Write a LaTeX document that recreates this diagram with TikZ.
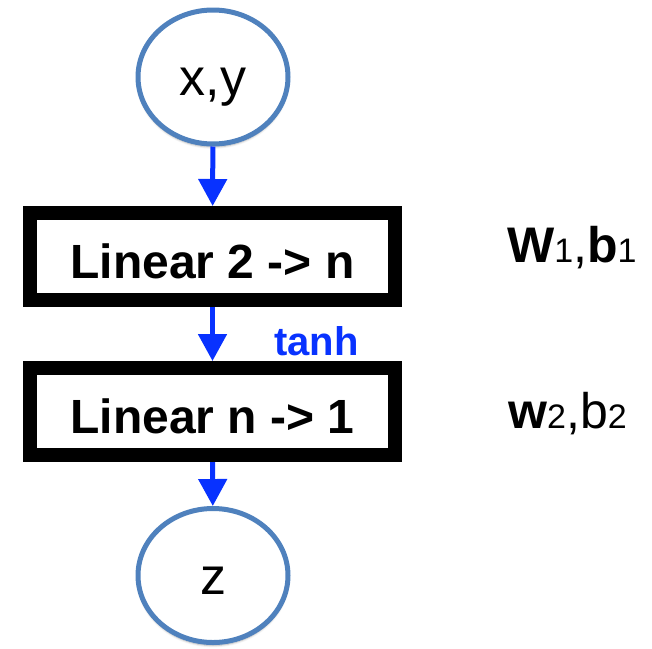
\documentclass[tikz,border=0pt]{standalone}
\usepackage{fontspec}
\setmainfont{Liberation Sans}
\usetikzlibrary{arrows.meta,shapes.geometric,shadows.blur}
\definecolor{ringblue}{RGB}{79,129,189}
\definecolor{arrowblue}{RGB}{8,50,255}
\tikzset{
  ring/.style={ellipse, draw=ringblue, line width=5pt, fill=white,
    minimum width=150pt, minimum height=134pt, inner sep=0pt,
    text height=37pt, text depth=0pt,
    blur shadow={shadow xshift=0pt, shadow yshift=-3pt, shadow blur steps=6, shadow opacity=30},
    font=\fontsize{52}{60}\selectfont},
  layerbox/.style={rectangle, draw=black, line width=14pt,
    minimum width=365pt, minimum height=87pt, inner sep=0pt,
    text height=44pt, text depth=0pt,
    font=\fontsize{48}{56}\selectfont\bfseries},
  flow/.style={draw=arrowblue, line width=5pt, -{Triangle[width=28pt,length=27pt]}},
  param/.style={anchor=base west, inner sep=0pt, font=\fontsize{50}{58}\selectfont},
}
\begin{document}
\begin{tikzpicture}[x=1pt,y=-1pt]
\useasboundingbox (0,0) rectangle (652,648);
\node[ring] (xy) at (213,77) {x,y};
\node[layerbox] (l1) at (212.5,256.5) {Linear 2 -> n};
\node[layerbox] (l2) at (212.5,411.5) {Linear n -> 1};
\node[ring] (z) at (213,575.5) {z};
\draw[flow] (xy) -- (l1);
\draw[flow] (l1) -- (l2);
\draw[flow] (l2) -- (z);
\node[anchor=base west, inner sep=0pt, text=arrowblue, font=\fontsize{40}{48}\selectfont\bfseries] (act) at (274,355) {tanh};
\node[param] (p1) at (507,262) {\textbf{W}{\fontsize{34}{40}\selectfont 1},\textbf{b}{\fontsize{34}{40}\selectfont 1}};
\node[param] (p2) at (508,428) {\textbf{w}{\fontsize{34}{40}\selectfont 2},b{\fontsize{34}{40}\selectfont 2}};
\end{tikzpicture}
\end{document}
